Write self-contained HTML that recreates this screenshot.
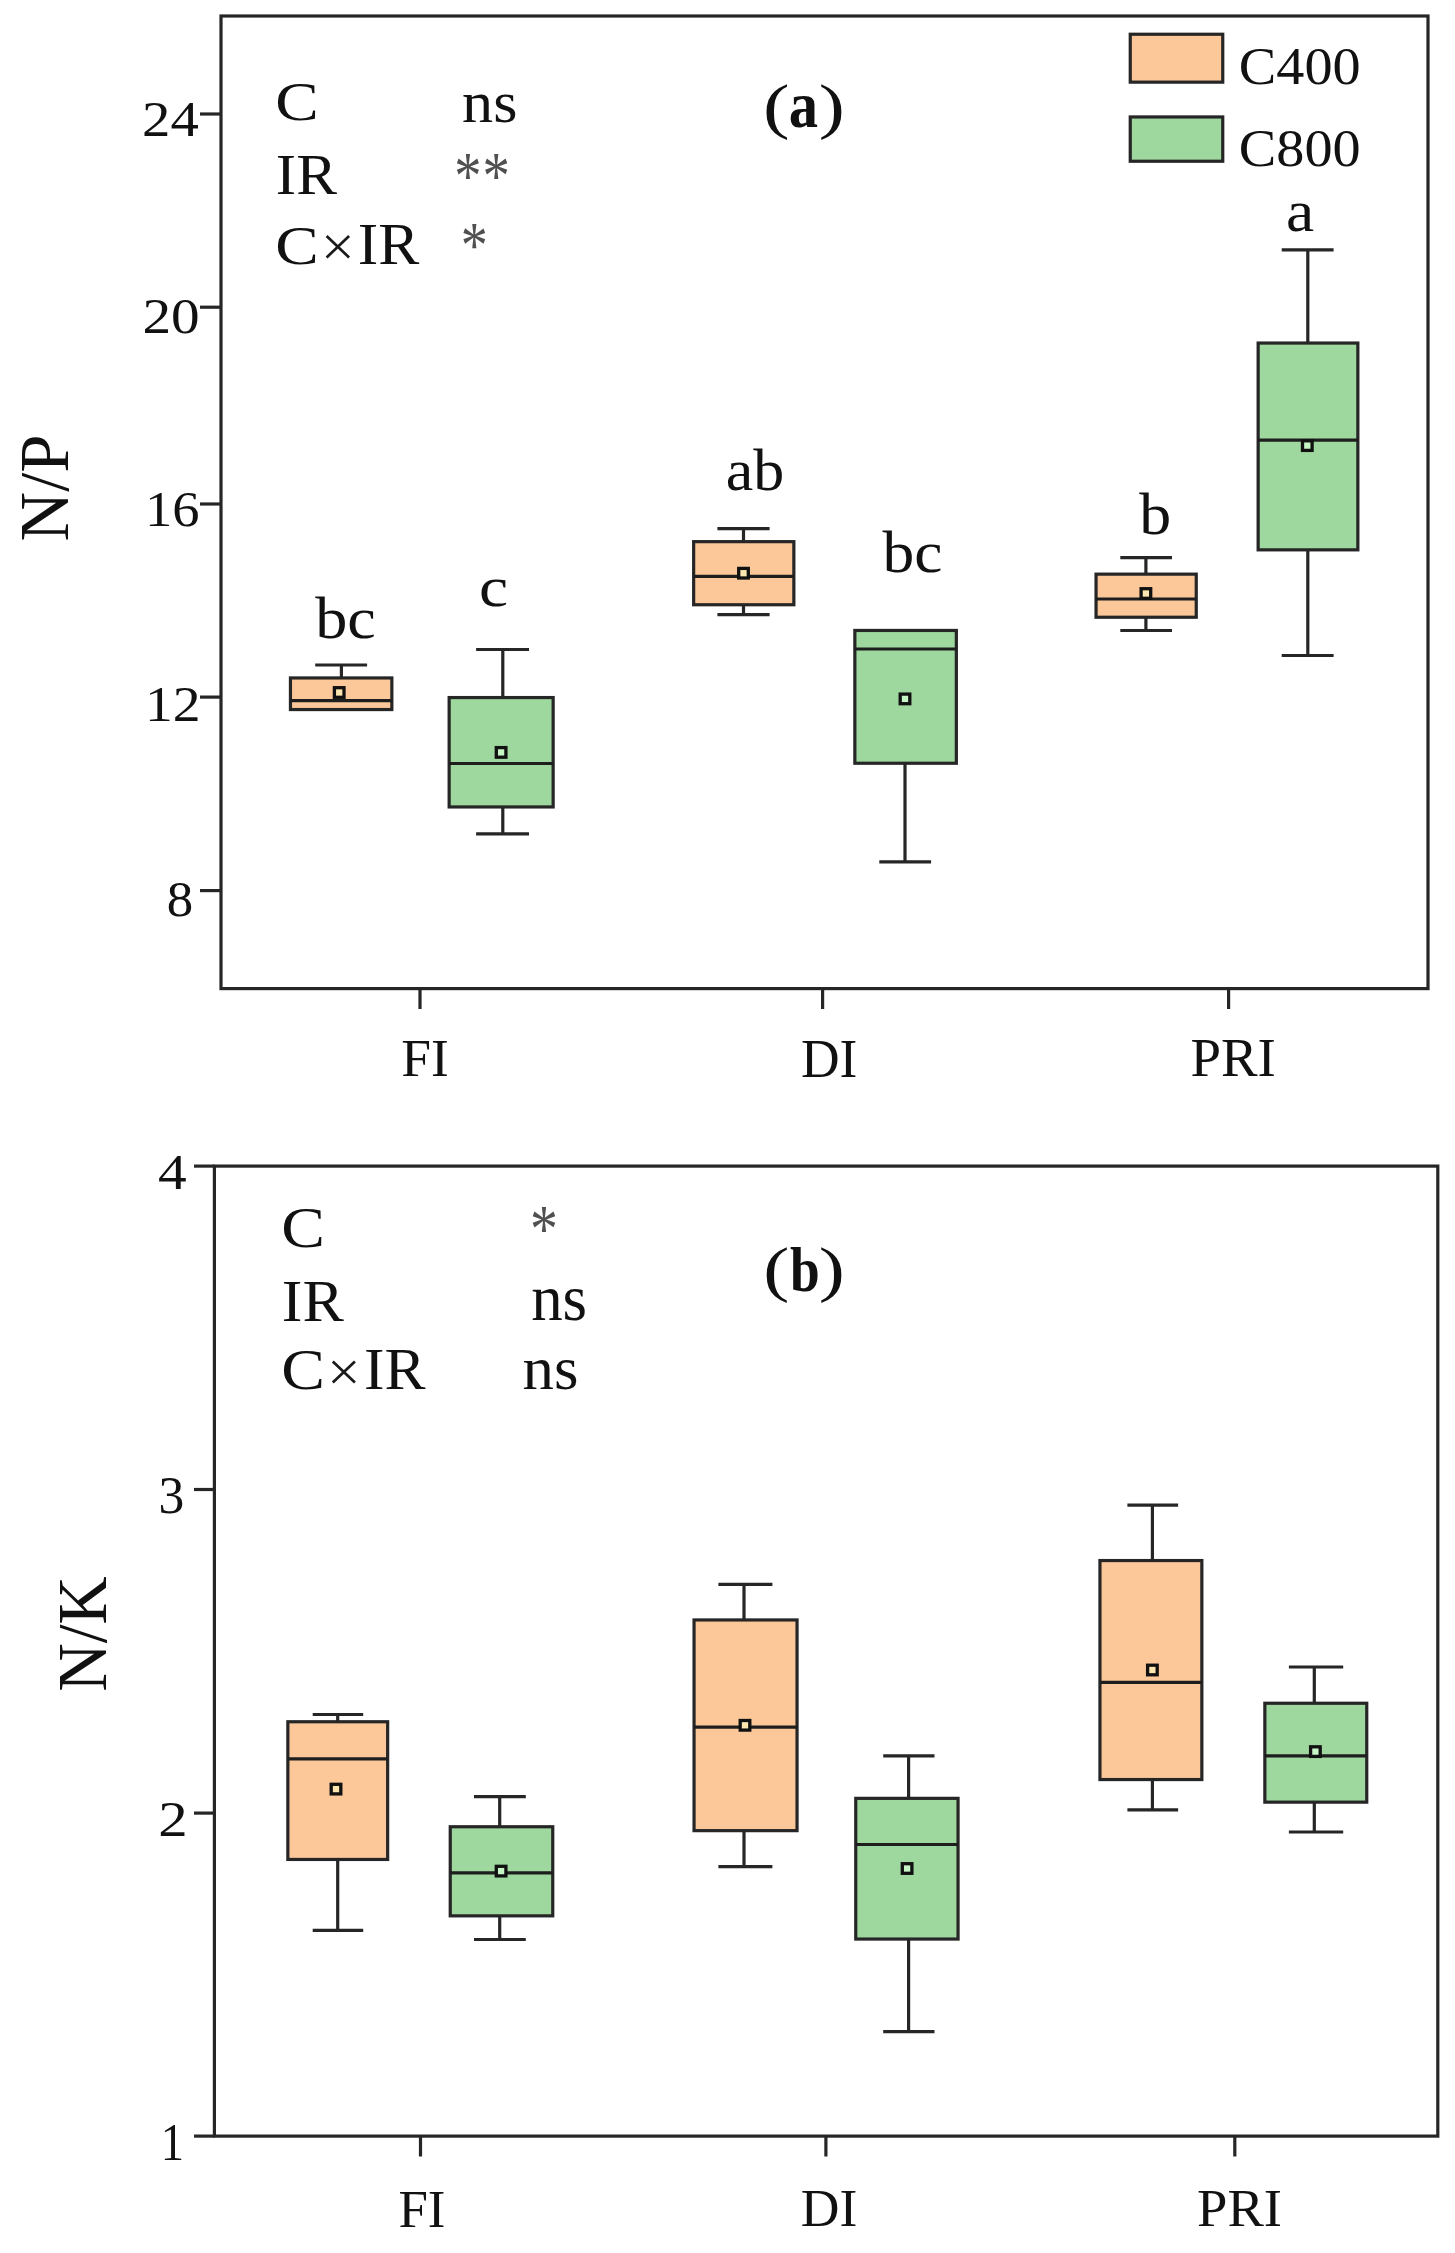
<!DOCTYPE html>
<html><head><meta charset="utf-8"><title>N/P and N/K box plots</title>
<style>
html,body{margin:0;padding:0;background:#fff;}
svg{display:block;}
text{font-family:"Liberation Serif",serif;}
</style></head>
<body>
<svg width="1455" height="2253" viewBox="0 0 1455 2253">
<rect width="1455" height="2253" fill="#fff"/>
<rect x="221.00" y="16.00" width="1207.00" height="972.60" fill="none" stroke="#262626" stroke-width="3.2"/>
<line x1="200.00" y1="114.00" x2="221.00" y2="114.00" stroke="#262626" stroke-width="3.2"/>
<line x1="200.00" y1="307.20" x2="221.00" y2="307.20" stroke="#262626" stroke-width="3.2"/>
<line x1="200.00" y1="504.00" x2="221.00" y2="504.00" stroke="#262626" stroke-width="3.2"/>
<line x1="200.00" y1="697.10" x2="221.00" y2="697.10" stroke="#262626" stroke-width="3.2"/>
<line x1="200.00" y1="890.60" x2="221.00" y2="890.60" stroke="#262626" stroke-width="3.2"/>
<line x1="420.00" y1="988.60" x2="420.00" y2="1009.00" stroke="#262626" stroke-width="3.2"/>
<line x1="822.60" y1="988.60" x2="822.60" y2="1009.00" stroke="#262626" stroke-width="3.2"/>
<line x1="1228.60" y1="988.60" x2="1228.60" y2="1009.00" stroke="#262626" stroke-width="3.2"/>
<text transform="translate(142.00,136.20) scale(1.1393,1)" font-size="49.84" fill="#111">24</text>
<text transform="translate(142.38,333.01) scale(1.1339,1)" font-size="50.53" fill="#111">20</text>
<text transform="translate(145.01,525.71) scale(1.0966,1)" font-size="49.71" fill="#111">16</text>
<text transform="translate(144.91,720.80) scale(1.0808,1)" font-size="51.50" fill="#111">12</text>
<text transform="translate(166.69,916.11) scale(1.0552,1)" font-size="50.09" fill="#111">8</text>
<text transform="translate(401.26,1076.10) scale(1.0084,1)" font-size="52.99" fill="#111">FI</text>
<text transform="translate(800.96,1076.59) scale(0.9809,1)" font-size="54.51" fill="#111">DI</text>
<text transform="translate(1190.42,1076.30) scale(1.0181,1)" font-size="53.91" fill="#111">PRI</text>
<text transform="translate(67.50,541.48) rotate(-90) scale(0.9739,1)" font-size="70.56" fill="#111">N/P</text>
<text transform="translate(275.33,120.46) scale(1.1802,1)" font-size="55.22" fill="#111">C</text>
<text transform="translate(462.07,121.51) scale(1.0365,1)" font-size="60.09" fill="#111">ns</text>
<text transform="translate(275.79,194.20) scale(1.0783,1)" font-size="56.66" fill="#111">IR</text>
<text transform="translate(275.33,263.76) scale(1.1802,1)" font-size="55.22" fill="#111">C</text>
<text transform="translate(357.78,264.30) scale(1.0544,1)" font-size="58.34" fill="#111">IR</text>
<line x1="326.60" y1="236.10" x2="349.10" y2="257.50" stroke="#1a1a1a" stroke-width="2.7"/>
<line x1="326.60" y1="257.50" x2="349.10" y2="236.10" stroke="#1a1a1a" stroke-width="2.7"/>
<text transform="translate(454.14,197.68) scale(0.8065,1)" font-size="67.63" fill="#505050">*</text>
<text transform="translate(482.42,197.68) scale(0.8102,1)" font-size="67.63" fill="#505050">*</text>
<text transform="translate(460.86,266.60) scale(0.8328,1)" font-size="64.90" fill="#505050">*</text>
<text transform="translate(762.89,126.93) scale(1.2809,1)" font-size="62.31" fill="#111">(</text>
<text transform="translate(788.71,127.07) scale(0.9017,1)" font-size="64.93" font-weight="bold" fill="#111">a</text>
<text transform="translate(818.68,126.93) scale(1.2560,1)" font-size="62.31" fill="#111">)</text>
<rect x="1130.25" y="34.25" width="92.50" height="47.90" fill="#FCC89A" stroke="#262626" stroke-width="3.2"/>
<rect x="1130.25" y="116.95" width="92.50" height="44.30" fill="#9ED89F" stroke="#262626" stroke-width="3.2"/>
<text transform="translate(1238.79,83.78) scale(1.0569,1)" font-size="53.20" fill="#111">C400</text>
<text transform="translate(1238.79,166.48) scale(1.0569,1)" font-size="53.20" fill="#111">C800</text>
<line x1="341.40" y1="665.00" x2="341.40" y2="677.95" stroke="#262626" stroke-width="3.2"/>
<line x1="315.20" y1="665.00" x2="367.10" y2="665.00" stroke="#262626" stroke-width="3.2"/>
<rect x="290.45" y="677.95" width="101.40" height="31.60" fill="#FCC89A" stroke="#262626" stroke-width="3.2"/>
<line x1="290.45" y1="700.60" x2="391.85" y2="700.60" stroke="#1e1e1e" stroke-width="3.2"/>
<rect x="334.40" y="687.70" width="9.6" height="9.6" fill="#FCE6B0" stroke="#111" stroke-width="3.3"/>
<line x1="502.80" y1="649.50" x2="502.80" y2="697.55" stroke="#262626" stroke-width="3.2"/>
<line x1="476.10" y1="649.50" x2="529.00" y2="649.50" stroke="#262626" stroke-width="3.2"/>
<line x1="502.80" y1="806.95" x2="502.80" y2="833.80" stroke="#262626" stroke-width="3.2"/>
<line x1="476.10" y1="833.80" x2="529.00" y2="833.80" stroke="#262626" stroke-width="3.2"/>
<rect x="449.15" y="697.55" width="104.00" height="109.40" fill="#9ED89F" stroke="#262626" stroke-width="3.2"/>
<line x1="449.15" y1="763.50" x2="553.15" y2="763.50" stroke="#1e1e1e" stroke-width="3.2"/>
<rect x="496.30" y="747.60" width="9.6" height="9.6" fill="#C6F5C6" stroke="#111" stroke-width="3.3"/>
<line x1="743.50" y1="528.60" x2="743.50" y2="541.65" stroke="#262626" stroke-width="3.2"/>
<line x1="717.40" y1="528.60" x2="769.60" y2="528.60" stroke="#262626" stroke-width="3.2"/>
<line x1="743.50" y1="604.75" x2="743.50" y2="614.70" stroke="#262626" stroke-width="3.2"/>
<line x1="717.40" y1="614.70" x2="769.60" y2="614.70" stroke="#262626" stroke-width="3.2"/>
<rect x="693.65" y="541.65" width="100.20" height="63.10" fill="#FCC89A" stroke="#262626" stroke-width="3.2"/>
<line x1="693.65" y1="576.40" x2="793.85" y2="576.40" stroke="#1e1e1e" stroke-width="3.2"/>
<rect x="738.70" y="568.40" width="9.6" height="9.6" fill="#FCE6B0" stroke="#111" stroke-width="3.3"/>
<line x1="905.00" y1="763.25" x2="905.00" y2="861.80" stroke="#262626" stroke-width="3.2"/>
<line x1="879.30" y1="861.80" x2="931.10" y2="861.80" stroke="#262626" stroke-width="3.2"/>
<rect x="854.85" y="630.45" width="101.50" height="132.80" fill="#9ED89F" stroke="#262626" stroke-width="3.2"/>
<line x1="854.85" y1="649.00" x2="956.35" y2="649.00" stroke="#1e1e1e" stroke-width="3.2"/>
<rect x="900.20" y="694.10" width="9.6" height="9.6" fill="#C6F5C6" stroke="#111" stroke-width="3.3"/>
<line x1="1145.90" y1="557.60" x2="1145.90" y2="574.15" stroke="#262626" stroke-width="3.2"/>
<line x1="1120.30" y1="557.60" x2="1172.00" y2="557.60" stroke="#262626" stroke-width="3.2"/>
<line x1="1145.90" y1="617.25" x2="1145.90" y2="630.50" stroke="#262626" stroke-width="3.2"/>
<line x1="1120.30" y1="630.50" x2="1172.00" y2="630.50" stroke="#262626" stroke-width="3.2"/>
<rect x="1096.05" y="574.15" width="100.20" height="43.10" fill="#FCC89A" stroke="#262626" stroke-width="3.2"/>
<line x1="1096.05" y1="599.00" x2="1196.25" y2="599.00" stroke="#1e1e1e" stroke-width="3.2"/>
<rect x="1141.10" y="588.70" width="9.6" height="9.6" fill="#FCE6B0" stroke="#111" stroke-width="3.3"/>
<line x1="1307.80" y1="249.80" x2="1307.80" y2="343.05" stroke="#262626" stroke-width="3.2"/>
<line x1="1281.70" y1="249.80" x2="1333.60" y2="249.80" stroke="#262626" stroke-width="3.2"/>
<line x1="1307.80" y1="549.85" x2="1307.80" y2="655.50" stroke="#262626" stroke-width="3.2"/>
<line x1="1281.70" y1="655.50" x2="1333.60" y2="655.50" stroke="#262626" stroke-width="3.2"/>
<rect x="1258.15" y="343.05" width="99.70" height="206.80" fill="#9ED89F" stroke="#262626" stroke-width="3.2"/>
<line x1="1258.15" y1="440.20" x2="1357.85" y2="440.20" stroke="#1e1e1e" stroke-width="3.2"/>
<rect x="1302.50" y="440.80" width="9.6" height="9.6" fill="#C6F5C6" stroke="#111" stroke-width="3.3"/>
<text transform="translate(315.20,638.23) scale(1.1033,1)" font-size="58.27" fill="#111">bc</text>
<text transform="translate(478.90,605.84) scale(1.1349,1)" font-size="57.80" fill="#111">c</text>
<text transform="translate(725.82,489.62) scale(1.0491,1)" font-size="59.12" fill="#111">ab</text>
<text transform="translate(882.50,571.62) scale(1.0744,1)" font-size="59.12" fill="#111">bc</text>
<text transform="translate(1139.20,533.73) scale(1.0854,1)" font-size="58.84" fill="#111">b</text>
<text transform="translate(1285.97,231.32) scale(1.0717,1)" font-size="59.29" fill="#111">a</text>
<rect x="214.40" y="1166.10" width="1223.40" height="970.00" fill="none" stroke="#262626" stroke-width="3.2"/>
<line x1="194.00" y1="1166.10" x2="214.40" y2="1166.10" stroke="#262626" stroke-width="3.2"/>
<line x1="194.00" y1="1489.50" x2="214.40" y2="1489.50" stroke="#262626" stroke-width="3.2"/>
<line x1="194.00" y1="1813.10" x2="214.40" y2="1813.10" stroke="#262626" stroke-width="3.2"/>
<line x1="194.00" y1="2136.10" x2="214.40" y2="2136.10" stroke="#262626" stroke-width="3.2"/>
<line x1="420.50" y1="2136.10" x2="420.50" y2="2156.50" stroke="#262626" stroke-width="3.2"/>
<line x1="825.90" y1="2136.10" x2="825.90" y2="2156.50" stroke="#262626" stroke-width="3.2"/>
<line x1="1234.80" y1="2136.10" x2="1234.80" y2="2156.50" stroke="#262626" stroke-width="3.2"/>
<text transform="translate(157.98,1188.90) scale(1.1491,1)" font-size="49.98" fill="#111">4</text>
<text transform="translate(158.43,1513.09) scale(0.9955,1)" font-size="51.80" fill="#111">3</text>
<text transform="translate(158.31,1835.80) scale(1.1498,1)" font-size="51.20" fill="#111">2</text>
<text transform="translate(160.81,2160.30) scale(0.8837,1)" font-size="52.71" fill="#111">1</text>
<text transform="translate(398.48,2226.70) scale(0.9913,1)" font-size="53.30" fill="#111">FI</text>
<text transform="translate(800.86,2226.20) scale(1.0198,1)" font-size="52.53" fill="#111">DI</text>
<text transform="translate(1197.03,2226.20) scale(1.0488,1)" font-size="52.08" fill="#111">PRI</text>
<text transform="translate(105.50,1691.84) rotate(-90) scale(0.9670,1)" font-size="69.49" fill="#111">N/K</text>
<text transform="translate(281.31,1247.04) scale(1.1434,1)" font-size="57.30" fill="#111">C</text>
<text transform="translate(529.88,1251.24) scale(0.8183,1)" font-size="68.18" fill="#505050">*</text>
<text transform="translate(281.76,1320.60) scale(1.0505,1)" font-size="58.95" fill="#111">IR</text>
<text transform="translate(531.16,1319.97) scale(0.9725,1)" font-size="64.66" fill="#111">ns</text>
<text transform="translate(281.31,1389.34) scale(1.1405,1)" font-size="57.45" fill="#111">C</text>
<text transform="translate(363.98,1389.30) scale(1.0544,1)" font-size="58.34" fill="#111">IR</text>
<line x1="332.80" y1="1361.60" x2="354.90" y2="1382.50" stroke="#1a1a1a" stroke-width="2.7"/>
<line x1="332.80" y1="1382.50" x2="354.90" y2="1361.60" stroke="#1a1a1a" stroke-width="2.7"/>
<text transform="translate(522.56,1389.29) scale(1.0115,1)" font-size="62.17" fill="#111">ns</text>
<text transform="translate(763.36,1290.13) scale(1.2560,1)" font-size="62.31" fill="#111">(</text>
<text transform="translate(789.92,1290.68) scale(0.8476,1)" font-size="63.10" font-weight="bold" fill="#111">b</text>
<text transform="translate(818.68,1290.13) scale(1.2560,1)" font-size="62.31" fill="#111">)</text>
<line x1="337.70" y1="1714.50" x2="337.70" y2="1721.75" stroke="#262626" stroke-width="3.2"/>
<line x1="312.70" y1="1714.50" x2="363.20" y2="1714.50" stroke="#262626" stroke-width="3.2"/>
<line x1="337.70" y1="1859.45" x2="337.70" y2="1930.30" stroke="#262626" stroke-width="3.2"/>
<line x1="312.70" y1="1930.30" x2="363.20" y2="1930.30" stroke="#262626" stroke-width="3.2"/>
<rect x="287.85" y="1721.75" width="99.80" height="137.70" fill="#FCC89A" stroke="#262626" stroke-width="3.2"/>
<line x1="287.85" y1="1758.80" x2="387.65" y2="1758.80" stroke="#1e1e1e" stroke-width="3.2"/>
<rect x="331.20" y="1784.30" width="9.6" height="9.6" fill="#FCE6B0" stroke="#111" stroke-width="3.3"/>
<line x1="499.70" y1="1796.70" x2="499.70" y2="1826.75" stroke="#262626" stroke-width="3.2"/>
<line x1="474.00" y1="1796.70" x2="525.80" y2="1796.70" stroke="#262626" stroke-width="3.2"/>
<line x1="499.70" y1="1915.85" x2="499.70" y2="1939.50" stroke="#262626" stroke-width="3.2"/>
<line x1="474.00" y1="1939.50" x2="525.80" y2="1939.50" stroke="#262626" stroke-width="3.2"/>
<rect x="450.25" y="1826.75" width="102.50" height="89.10" fill="#9ED89F" stroke="#262626" stroke-width="3.2"/>
<line x1="450.25" y1="1872.80" x2="552.75" y2="1872.80" stroke="#1e1e1e" stroke-width="3.2"/>
<rect x="496.30" y="1866.30" width="9.6" height="9.6" fill="#C6F5C6" stroke="#111" stroke-width="3.3"/>
<line x1="744.00" y1="1584.40" x2="744.00" y2="1619.95" stroke="#262626" stroke-width="3.2"/>
<line x1="718.40" y1="1584.40" x2="772.40" y2="1584.40" stroke="#262626" stroke-width="3.2"/>
<line x1="744.00" y1="1830.65" x2="744.00" y2="1866.70" stroke="#262626" stroke-width="3.2"/>
<line x1="718.40" y1="1866.70" x2="772.40" y2="1866.70" stroke="#262626" stroke-width="3.2"/>
<rect x="694.05" y="1619.95" width="103.00" height="210.70" fill="#FCC89A" stroke="#262626" stroke-width="3.2"/>
<line x1="694.05" y1="1727.10" x2="797.05" y2="1727.10" stroke="#1e1e1e" stroke-width="3.2"/>
<rect x="740.20" y="1720.50" width="9.6" height="9.6" fill="#FCE6B0" stroke="#111" stroke-width="3.3"/>
<line x1="908.60" y1="1755.80" x2="908.60" y2="1798.35" stroke="#262626" stroke-width="3.2"/>
<line x1="883.20" y1="1755.80" x2="934.50" y2="1755.80" stroke="#262626" stroke-width="3.2"/>
<line x1="908.60" y1="1939.05" x2="908.60" y2="2031.60" stroke="#262626" stroke-width="3.2"/>
<line x1="883.20" y1="2031.60" x2="934.50" y2="2031.60" stroke="#262626" stroke-width="3.2"/>
<rect x="855.75" y="1798.35" width="102.30" height="140.70" fill="#9ED89F" stroke="#262626" stroke-width="3.2"/>
<line x1="855.75" y1="1844.50" x2="958.05" y2="1844.50" stroke="#1e1e1e" stroke-width="3.2"/>
<rect x="902.30" y="1863.70" width="9.6" height="9.6" fill="#C6F5C6" stroke="#111" stroke-width="3.3"/>
<line x1="1152.40" y1="1505.10" x2="1152.40" y2="1560.55" stroke="#262626" stroke-width="3.2"/>
<line x1="1127.40" y1="1505.10" x2="1178.10" y2="1505.10" stroke="#262626" stroke-width="3.2"/>
<line x1="1152.40" y1="1779.55" x2="1152.40" y2="1809.80" stroke="#262626" stroke-width="3.2"/>
<line x1="1127.40" y1="1809.80" x2="1178.10" y2="1809.80" stroke="#262626" stroke-width="3.2"/>
<rect x="1099.95" y="1560.55" width="101.90" height="219.00" fill="#FCC89A" stroke="#262626" stroke-width="3.2"/>
<line x1="1099.95" y1="1682.40" x2="1201.85" y2="1682.40" stroke="#1e1e1e" stroke-width="3.2"/>
<rect x="1147.60" y="1665.20" width="9.6" height="9.6" fill="#FCE6B0" stroke="#111" stroke-width="3.3"/>
<line x1="1314.30" y1="1667.00" x2="1314.30" y2="1703.25" stroke="#262626" stroke-width="3.2"/>
<line x1="1288.90" y1="1667.00" x2="1343.20" y2="1667.00" stroke="#262626" stroke-width="3.2"/>
<line x1="1314.30" y1="1802.15" x2="1314.30" y2="1832.00" stroke="#262626" stroke-width="3.2"/>
<line x1="1288.90" y1="1832.00" x2="1343.20" y2="1832.00" stroke="#262626" stroke-width="3.2"/>
<rect x="1264.85" y="1703.25" width="101.90" height="98.90" fill="#9ED89F" stroke="#262626" stroke-width="3.2"/>
<line x1="1264.85" y1="1755.90" x2="1366.75" y2="1755.90" stroke="#1e1e1e" stroke-width="3.2"/>
<rect x="1310.60" y="1746.80" width="9.6" height="9.6" fill="#C6F5C6" stroke="#111" stroke-width="3.3"/>
</svg>
</body></html>
